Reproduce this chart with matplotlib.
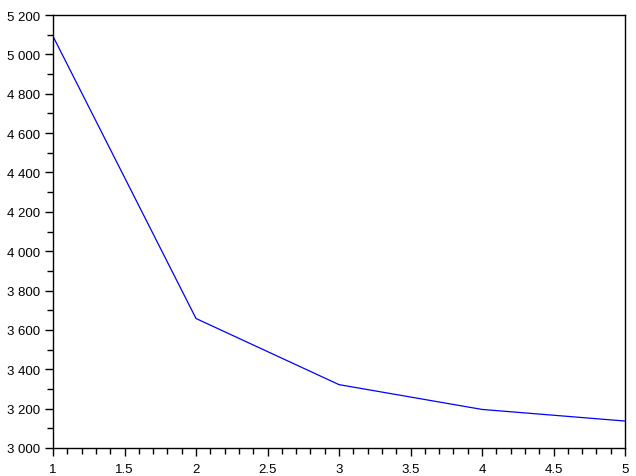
import matplotlib
matplotlib.use("Agg")
import matplotlib.pyplot as plt
from matplotlib.ticker import MultipleLocator, FuncFormatter

# data
x = [1, 2, 3, 4, 5]
y = [5092, 3658, 3322, 3196, 3137]

plt.rcParams['font.family'] = ['Liberation Sans', 'DejaVu Sans']

fig = plt.figure(figsize=(6.36, 4.77), dpi=100)
ax = fig.add_axes([53 / 636, 1 - 449 / 477, (625 - 53) / 636, (449 - 16) / 477])

ax.plot(x, y, color='blue', linewidth=0.9)

ax.set_xlim(1, 5)
ax.set_ylim(3000, 5200)
ax.xaxis.set_major_locator(MultipleLocator(0.5))
ax.xaxis.set_minor_locator(MultipleLocator(0.1))
ax.yaxis.set_major_locator(MultipleLocator(200))
ax.yaxis.set_minor_locator(MultipleLocator(100))

ax.xaxis.set_major_formatter(FuncFormatter(lambda v, p: f"{v:g}"))
ax.yaxis.set_major_formatter(FuncFormatter(lambda v, p: f"{int(v):,}".replace(",", " ")))

ax.tick_params(which='major', direction='out', length=6, width=1, labelsize=9.5, colors='black')
ax.tick_params(which='minor', direction='out', length=4, width=1)
ax.tick_params(axis='y', pad=3)
ax.tick_params(axis='x', pad=5)

for s in ax.spines.values():
    s.set_linewidth(1)

fig.savefig("out.png", dpi=100)
